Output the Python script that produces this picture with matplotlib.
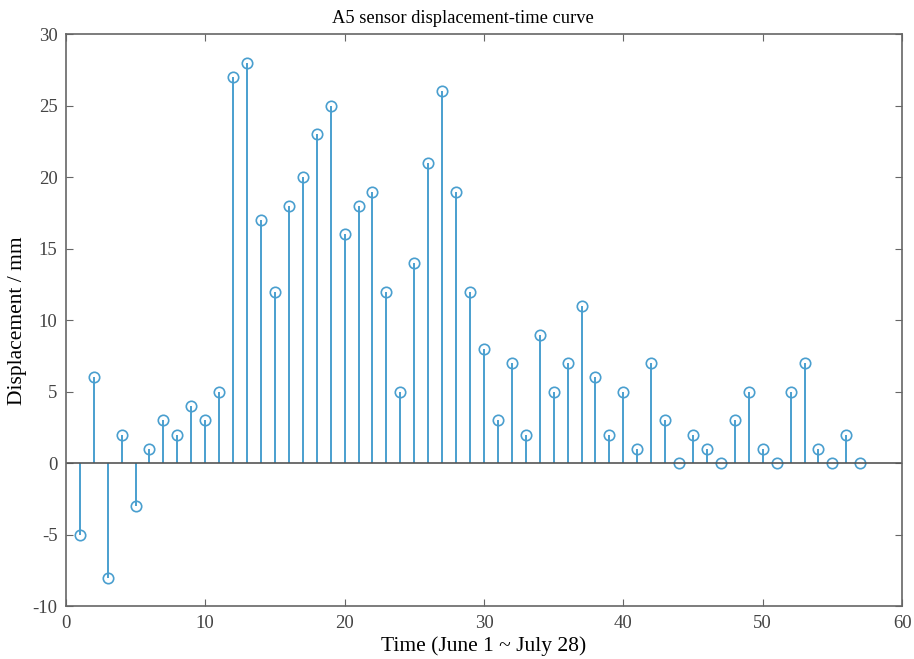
import matplotlib.pyplot as plt
import numpy as np

plt.rcParams['font.family'] = ['Liberation Serif', 'DejaVu Serif']
plt.rcParams['axes.unicode_minus'] = False

# displacement per day (mm), June 1 ~ July 28
days = np.arange(1, 58)
displacement = [-5, 6, -8, 2, -3, 1, 3, 2, 4, 3,
                5, 27, 28, 17, 12, 18, 20, 23, 25, 16,
                18, 19, 12, 5, 14, 21, 26, 19, 12, 8,
                3, 7, 2, 9, 5, 7, 11, 6, 2, 5,
                1, 7, 3, 0, 2, 1, 0, 3, 5, 1,
                0, 5, 7, 1, 0, 2, 0]

fig = plt.figure(figsize=(9.14, 6.59), dpi=100)
ax = fig.add_axes([0.072, 0.080, 0.915, 0.868])

stem_color = '#4a9fcf'
markers, stems, base = ax.stem(days, displacement)
plt.setp(stems, color=stem_color, linewidth=1.4)
plt.setp(markers, marker='o', markersize=7.5, markerfacecolor='none',
         markeredgecolor=stem_color, markeredgewidth=1.2)
plt.setp(base, color='#555555', linewidth=1.2)

ax.set_xlim(0, 60)
ax.set_ylim(-10, 30)
base.set_xdata([0, 60])
ax.set_xticks(range(0, 61, 10))
ax.set_yticks(range(-10, 31, 5))

for s in ax.spines.values():
    s.set_color('#666666')
    s.set_linewidth(1.2)
ax.tick_params(direction='in', top=True, right=True, length=5,
               color='#666666', labelsize=13.5, labelcolor='#444444', pad=6)

ax.set_title('A5 sensor displacement-time curve', fontsize=13.3, pad=8, x=0.475)
ax.set_xlabel('Time (June 1 ~ July 28)', fontsize=15.5, labelpad=3)
ax.set_ylabel('Displacement / mm', fontsize=15.5, labelpad=4)

fig.savefig('out.png', dpi=100)
